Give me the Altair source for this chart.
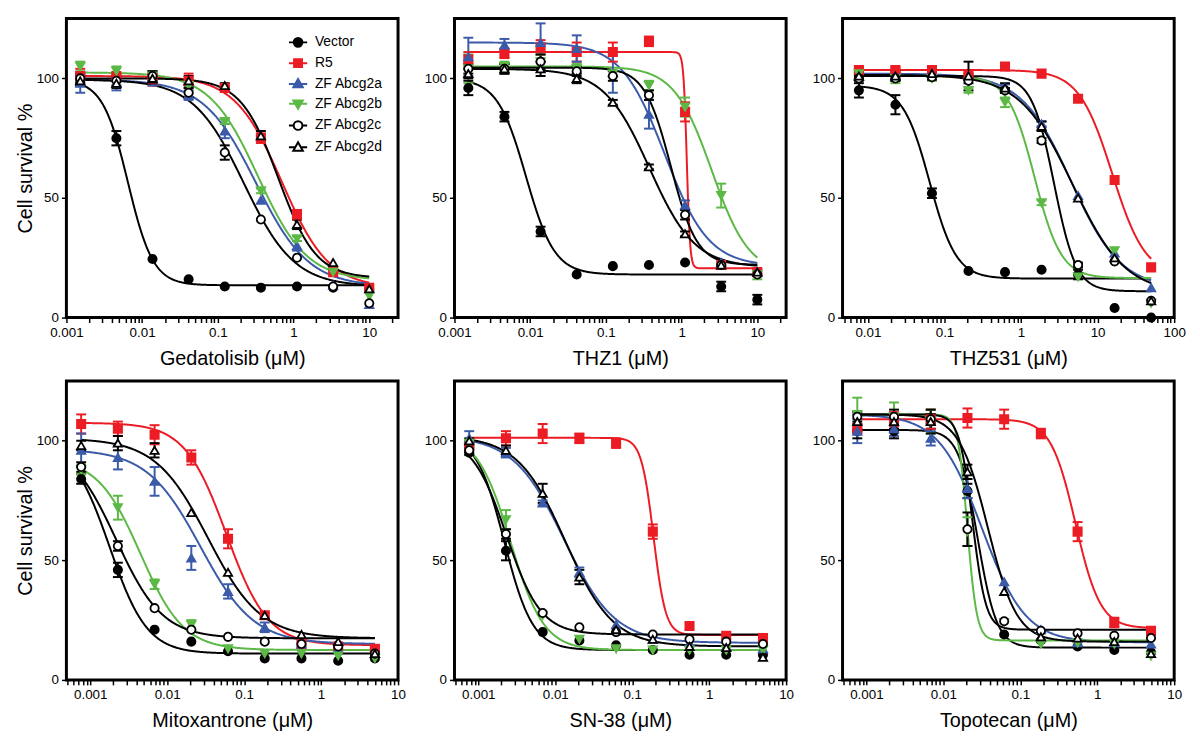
import altair as alt
import pandas as pd

FONT = "Liberation Sans"

SERIES = ["Vector", "R5", "ZF Abcg2a", "ZF Abcg2b", "ZF Abcg2c", "ZF Abcg2d"]
LINE_COLORS = ["#000000", "#ec1c24", "#3b5ba9", "#5cb946", "#000000", "#000000"]
FILL_COLORS = ["#000000", "#ec1c24", "#3b5ba9", "#5cb946", "#ffffff", "#ffffff"]
SHAPES = ["circle", "square", "triangle-up", "triangle-down", "circle", "triangle-up"]

# legend glyphs: the marker with a short line through it
LEGEND_PATHS = [
    "M-2.3,0H2.3M-1.1,0A1.1,1.1,0,1,1,1.1,0A1.1,1.1,0,1,1,-1.1,0Z",
    "M-2.3,0H2.3M-1,-1H1V1H-1Z",
    "M-2.3,0H2.3M0,-1.25L1.2,0.85H-1.2Z",
    "M-2.3,0H2.3M0,1.25L1.2,-0.85H-1.2Z",
    "M-2.3,0H-1.1M1.1,0H2.3M-1.1,0A1.1,1.1,0,1,1,1.1,0A1.1,1.1,0,1,1,-1.1,0Z",
    "M-2.3,0H-0.71M0.71,0H2.3M0,-1.25L1.2,0.85H-1.2Z",
]
CAP_PATH = "M-1,0H1"

DOSES_TOP = [0.001524, 0.004572, 0.01372, 0.04115, 0.1235, 0.3704, 1.111, 3.333, 10.0]
DOSES_THZ531 = [0.00762, 0.02286, 0.06859, 0.2058, 0.6173, 1.852, 5.556, 16.67, 50.0]
DOSES_BOTTOM = [0.000762, 0.002286, 0.006859, 0.02058, 0.06173, 0.1852, 0.5556, 1.667, 5.0]

GED_MEAN = {
    "Vector":    [99, 75, 24.5, 16, 13, 12.5, 13, 12.5, 12],
    "R5":        [101, 101, 100, 99, 96, 75, 43, 19, 12.5],
    "ZF Abcg2a": [98, 98, 100, 93, 78, 49, 30, 13.5, 5.5],
    "ZF Abcg2b": [105, 103, 101, 97, 82, 53, 33, 19, 9],
    "ZF Abcg2c": [100, 99, 101, 94, 69, 41, 25, 13, 6],
    "ZF Abcg2d": [99, 98, 100, 99, 97, 76, 39, 23, 12],
}
GED_ERR = {
    "Vector":    [2, 3, 0, 0, 0, 0, 0, 0, 0],
    "R5":        [3, 1, 3, 3, 1, 2, 2, 0, 0],
    "ZF Abcg2a": [4, 3, 3, 2, 3, 0, 2, 0, 0],
    "ZF Abcg2b": [2, 2, 2, 3, 1, 1, 1, 0, 0],
    "ZF Abcg2c": [2, 2, 2, 2, 3, 0, 0, 0, 0],
    "ZF Abcg2d": [2, 2, 2, 2, 1, 2, 2, 0, 0],
}
# fit parameters: top, bottom, IC50, Hill slope
GED_FIT = {
    "Vector":    [99.5, 13.5, 0.0065, 2.6],
    "R5":        [101, 12.5, 0.70, 1.4],
    "ZF Abcg2a": [99.5, 13, 0.32, 1.25],
    "ZF Abcg2b": [102.5, 15.5, 0.34, 1.35],
    "ZF Abcg2c": [99.5, 13, 0.22, 1.3],
    "ZF Abcg2d": [100, 16.5, 0.63, 1.75],
}

THZ1_MEAN = {
    "Vector":    [96, 84, 36, 18, 21.5, 22, 23, 13, 7.5],
    "R5":        [108, 110.5, 113, 111, 111, 115.5, 86, 22, 19],
    "ZF Abcg2a": [109, 114, 115, 112.5, 102.5, 85, 47, 23, 19],
    "ZF Abcg2b": [104, 105, 107, 104, 102, 97, 88, 51, 18],
    "ZF Abcg2c": [104, 104, 107, 103, 101, 93, 43, 22, 18],
    "ZF Abcg2d": [102, 104, 104, 100, 90, 63, 35, 22, 19],
}
THZ1_ERR = {
    "Vector":    [3, 2, 2, 0, 0, 0, 0, 2, 2],
    "R5":        [3, 2, 3, 4, 4, 2, 4, 0, 0],
    "ZF Abcg2a": [8, 2.5, 8, 5.5, 8.5, 6, 2, 0, 0],
    "ZF Abcg2b": [6, 2, 3, 2, 1, 2, 4, 5, 2],
    "ZF Abcg2c": [2, 2, 3, 2, 2, 2, 2, 0, 0],
    "ZF Abcg2d": [2, 2, 3, 2, 1, 1, 1, 0, 0],
}
THZ1_FIT = {
    "Vector":    [100, 18, 0.0088, 2.3],
    "R5":        [111, 20.6, 1.17, 20],
    "ZF Abcg2a": [115, 21.5, 0.6, 1.5],
    "ZF Abcg2b": [105, 18, 2.5, 1.75],
    "ZF Abcg2c": [104.5, 22, 0.72, 2.5],
    "ZF Abcg2d": [104, 21, 0.376, 1.45],
}

THZ531_MEAN = {
    "Vector":    [95, 89, 52, 19.5, 19, 20, 18, 4, 0],
    "R5":        [103.5, 103.5, 103.5, 101, 105, 102, 91.5, 57.5, 21],
    "ZF Abcg2a": [101, 101, 102, 101, 96.5, 81, 51, 27, 12.5],
    "ZF Abcg2b": [102, 100, 100, 95, 90, 48, 17, 28, 6],
    "ZF Abcg2c": [100, 100, 100.5, 99, 95, 74, 22, 23.5, 7],
    "ZF Abcg2d": [101, 101, 102, 101, 96, 80, 50, 25, 7],
}
THZ531_ERR = {
    "Vector":    [3, 4, 2, 0, 0, 0, 2, 0, 0],
    "R5":        [1, 1, 1, 1, 0, 0, 0, 0, 0],
    "ZF Abcg2a": [1, 1, 1, 1, 1, 1, 0, 0, 0],
    "ZF Abcg2b": [1, 2, 1, 1, 2, 1, 0, 0, 0],
    "ZF Abcg2c": [1, 1, 1, 1, 1, 1, 1, 0, 0],
    "ZF Abcg2d": [1, 2, 1, 6, 2, 2, 0, 0, 0],
}
THZ531_FIT = {
    "Vector":    [97, 16.3, 0.064, 2.5],
    "R5":        [103.5, 17, 15.5, 2.0],
    "ZF Abcg2a": [102, 12, 4.5, 1.33],
    "ZF Abcg2b": [101, 16.5, 1.5, 2.5],
    "ZF Abcg2c": [101, 11, 2.7, 3.0],
    "ZF Abcg2d": [101.5, 10, 4.7, 1.26],
}

MITO_MEAN = {
    "Vector":    [84, 46, 21, 16, 12, 9, 9, 8, 9],
    "R5":        [107, 105, 102.5, 93, 59, 27, 15, 14, 13],
    "ZF Abcg2a": [96, 93, 83, 51, 37, 22, 15, 13, 11],
    "ZF Abcg2b": [88, 72, 40, 23, 13, 11, 11, 10, 9],
    "ZF Abcg2c": [89, 56, 30, 21, 18, 16, 15, 14, 11],
    "ZF Abcg2d": [98, 99, 96, 70, 45, 27, 19, 16, 11],
}
MITO_ERR = {
    "Vector":    [2, 3, 0, 0, 0, 0, 0, 0, 0],
    "R5":        [4, 3, 4, 3, 4, 1, 0, 0, 1],
    "ZF Abcg2a": [7, 5, 6, 5, 3, 2, 0, 0, 0],
    "ZF Abcg2b": [2, 5, 2, 2, 0, 0, 0, 0, 0],
    "ZF Abcg2c": [2, 2, 0, 0, 0, 0, 0, 0, 0],
    "ZF Abcg2d": [2, 3, 3, 0, 0, 0, 0, 0, 0],
}
MITO_FIT = {
    "Vector":    [100, 11, 0.00179, 1.78],
    "R5":        [107.5, 14.5, 0.0587, 1.61],
    "ZF Abcg2a": [96.5, 15, 0.027, 1.25],
    "ZF Abcg2b": [93, 12.5, 0.0045, 1.55],
    "ZF Abcg2c": [100, 17.4, 0.00217, 1.44],
    "ZF Abcg2d": [101, 17.4, 0.034, 1.27],
}

SN38_MEAN = {
    "Vector":    [95, 54, 20, 16.5, 14.5, 12.5, 10.5, 10.5, 10.5],
    "R5":        [98, 101, 103, 101, 99, 62, 22.5, 18.5, 17.5],
    "ZF Abcg2a": [101, 95, 74, 45, 23, 17, 15.5, 14, 13],
    "ZF Abcg2b": [99, 67, 27, 17, 13, 12.5, 12.5, 12.5, 12.5],
    "ZF Abcg2c": [96, 61, 28, 22, 20, 19, 17, 16, 15],
    "ZF Abcg2d": [100, 96, 78, 43, 21, 17, 14, 13.5, 9.5],
}
SN38_ERR = {
    "Vector":    [1, 4, 0, 0, 0, 0, 0, 0, 0],
    "R5":        [1, 3, 4, 2, 2, 3, 0, 0, 0],
    "ZF Abcg2a": [3, 2, 1, 2, 0, 0, 0, 0, 0],
    "ZF Abcg2b": [1, 4, 0, 0, 0, 0, 0, 0, 0],
    "ZF Abcg2c": [1, 2, 0, 0, 0, 0, 0, 0, 0],
    "ZF Abcg2d": [1, 2, 4, 3, 0, 0, 0, 0, 0],
}
SN38_FIT = {
    "Vector":    [103, 12.5, 0.00218, 2.35],
    "R5":        [101.2, 18.8, 0.189, 5.5],
    "ZF Abcg2a": [102, 15.5, 0.013, 1.32],
    "ZF Abcg2b": [103, 12.5, 0.00262, 2.0],
    "ZF Abcg2c": [102, 19, 0.00232, 1.94],
    "ZF Abcg2d": [102, 14, 0.0135, 1.4],
}

TOPO_MEAN = {
    "Vector":    [104, 104, 108, 79, 19, 16.5, 14, 12.5, 11.5],
    "R5":        [105, 109, 109, 109.5, 109, 103, 62, 24, 20.5],
    "ZF Abcg2a": [104, 105, 101, 80, 41, 21, 15.5, 15.5, 15],
    "ZF Abcg2b": [111, 110, 108, 62, 24, 15, 15.5, 15, 10],
    "ZF Abcg2c": [110, 110, 109, 63, 24.5, 20.5, 19.5, 18.5, 17.5],
    "ZF Abcg2d": [108, 108, 108, 87, 37, 18, 17.5, 16, 11],
}
TOPO_ERR = {
    "Vector":    [3, 3, 3, 3, 0, 0, 0, 0, 0],
    "R5":        [2, 3, 4, 4, 4, 2, 4, 2, 1],
    "ZF Abcg2a": [5, 3, 3, 4, 0, 0, 0, 0, 0],
    "ZF Abcg2b": [7, 6, 5, 6, 0, 0, 0, 0, 0],
    "ZF Abcg2c": [2, 3, 2, 7, 0, 0, 0, 0, 0],
    "ZF Abcg2d": [3, 3, 5, 3, 0, 0, 0, 0, 0],
}
TOPO_FIT = {
    "Vector":    [104.5, 13.5, 0.028, 3.5],
    "R5":        [109, 21.6, 0.523, 2.7],
    "ZF Abcg2a": [111, 15.7, 0.0318, 1.535],
    "ZF Abcg2b": [111, 16.5, 0.0205, 7],
    "ZF Abcg2c": [111, 21, 0.024, 5],
    "ZF Abcg2d": [111, 16, 0.038, 2.3],
}

X_TITLES = ["Gedatolisib (\u03bcM)", "THZ1 (\u03bcM)", "THZ531 (\u03bcM)",
            "Mitoxantrone (\u03bcM)", "SN-38 (\u03bcM)", "Topotecan (\u03bcM)"]
X_DOMAINS = [[0.001, 24], [0.001, 24], [0.00466, 100],
             [0.00049, 10], [0.00049, 10], [0.00049, 10]]
Y_DOMAIN = [0, 125]
Y_TICKS = [0, 50, 100]
Y_TITLE = "Cell survival %"

W, H = 335, 302


def log_ticks(lo, hi):
    vals = []
    for n in range(-4, 3):
        for k in range(1, 10):
            v = float(f"{k}e{n}")
            if lo * 0.9999 <= v <= hi * 1.0001:
                vals.append(v)
    return vals


LABEL_EXPR = ("abs(log(datum.value)/LN10 - round(log(datum.value)/LN10)) < 0.001"
              " ? format(datum.value, '~g') : ''")


def panel(i, doses, means, errs, fits, with_legend):
    rows = []
    for s in SERIES:
        for d, m, e in zip(doses, means[s], errs[s]):
            rows.append(dict(series=s, dose=d, mean=m, err=e, lo=m - e, hi=m + e))
    pdf = pd.DataFrame(rows)
    fdf = pd.DataFrame([dict(series=s, top=f[0], bottom=f[1], ic50=f[2], hill=f[3],
                             xmin=doses[0], xmax=doses[-1]) for s, f in fits.items()])
    xdom = X_DOMAINS[i]
    xscale = alt.Scale(type="log", domain=xdom, nice=False)
    yscale = alt.Scale(domain=Y_DOMAIN, nice=False, zero=False)
    xaxis = alt.Axis(title=X_TITLES[i], values=log_ticks(*xdom), labelExpr=LABEL_EXPR,
                     grid=False, domain=False, labelFlush=False, labelOverlap=False)
    yaxis = alt.Axis(title=Y_TITLE if i % 3 == 0 else None, values=Y_TICKS, grid=False,
                     domain=False, labelFlush=False)
    stroke_enc = alt.Stroke("series:N", scale=alt.Scale(domain=SERIES, range=LINE_COLORS),
                            legend=None)
    X = lambda f: alt.X(f, scale=xscale, axis=xaxis)
    Y = lambda f: alt.Y(f, scale=yscale, axis=yaxis)

    curves = alt.Chart(fdf).transform_calculate(
        t="sequence(0, 401)"
    ).transform_flatten(["t"]).transform_calculate(
        x="pow(10, log(datum.xmin)/LN10 + (log(datum.xmax)/LN10 - log(datum.xmin)/LN10) * datum.t / 400)"
    ).transform_calculate(
        y="datum.bottom + (datum.top - datum.bottom) / (1 + pow(datum.x / datum.ic50, datum.hill))"
    ).mark_line(strokeWidth=2).encode(x=X("x:Q"), y=Y("y:Q"), stroke=stroke_enc)

    ebase = alt.Chart(pdf).transform_filter("datum.err > 0")
    bars = ebase.mark_rule(strokeWidth=2).encode(
        x=X("dose:Q"), y=Y("lo:Q"), y2="hi:Q", stroke=stroke_enc)
    caps = ebase.transform_fold(["lo", "hi"], as_=["k", "v"]).mark_point(
        shape=CAP_PATH, size=100, strokeWidth=2, filled=False, opacity=1
    ).encode(x=X("dose:Q"), y=Y("v:Q"), stroke=stroke_enc)
    pts = alt.Chart(pdf).mark_point(size=70, opacity=1, strokeWidth=1.8).encode(
        x=X("dose:Q"), y=Y("mean:Q"),
        shape=alt.Shape("series:N", scale=alt.Scale(domain=SERIES, range=SHAPES), legend=None),
        fill=alt.Fill("series:N", scale=alt.Scale(domain=SERIES, range=FILL_COLORS), legend=None),
        stroke=stroke_enc,
    )
    layers = [curves, bars, caps, pts]
    if with_legend:
        L = alt.Legend(orient="none", legendX=227, legendY=17, title=None, symbolSize=64,
                       symbolStrokeWidth=2, labelFontSize=14, labelFont=FONT,
                       labelColor="black", labelOffset=10, rowPadding=4, padding=0)
        key = alt.Chart(pdf).transform_filter("false").mark_point(opacity=1).encode(
            x=X("dose:Q"), y=Y("mean:Q"),
            shape=alt.Shape("series:N", scale=alt.Scale(domain=SERIES, range=LEGEND_PATHS), legend=L),
            fill=alt.Fill("series:N", scale=alt.Scale(domain=SERIES, range=FILL_COLORS), legend=L),
            stroke=alt.Stroke("series:N", scale=alt.Scale(domain=SERIES, range=LINE_COLORS), legend=L),
        )
        layers.append(key)
    lay = alt.layer(*layers).properties(width=W, height=H)
    if with_legend:
        lay = lay.resolve_scale(shape="independent", fill="independent", stroke="independent")
    return lay


PANEL_DATA = [
    (DOSES_TOP, GED_MEAN, GED_ERR, GED_FIT),
    (DOSES_TOP, THZ1_MEAN, THZ1_ERR, THZ1_FIT),
    (DOSES_THZ531, THZ531_MEAN, THZ531_ERR, THZ531_FIT),
    (DOSES_BOTTOM, MITO_MEAN, MITO_ERR, MITO_FIT),
    (DOSES_BOTTOM, SN38_MEAN, SN38_ERR, SN38_FIT),
    (DOSES_BOTTOM, TOPO_MEAN, TOPO_ERR, TOPO_FIT),
]

panels = [panel(i, d, m, e, f, i == 0) for i, (d, m, e, f) in enumerate(PANEL_DATA)]
chart = alt.concat(*panels, columns=3, spacing={"row": 64, "column": 57}, bounds="flush")
chart = chart.resolve_scale(shape="independent", fill="independent", stroke="independent",
                            x="independent", y="independent")
chart = chart.resolve_legend(shape="independent", fill="independent", stroke="independent")
chart = chart.properties(padding={"left": 5, "top": 5, "right": 5, "bottom": 5})
chart = chart.configure_view(stroke="black", strokeWidth=3).configure_axis(
    labelFont=FONT, titleFont=FONT, labelFontSize=13.5, titleFontSize=20,
    titleFontWeight="normal", labelColor="black", titleColor="black",
    tickColor="black", tickWidth=1.5, tickSize=5, labelPadding=3,
).configure_axisX(titlePadding=10).configure_axisY(titlePadding=1)

chart.save("out.html", embed_options={"renderer": "svg", "actions": False})
